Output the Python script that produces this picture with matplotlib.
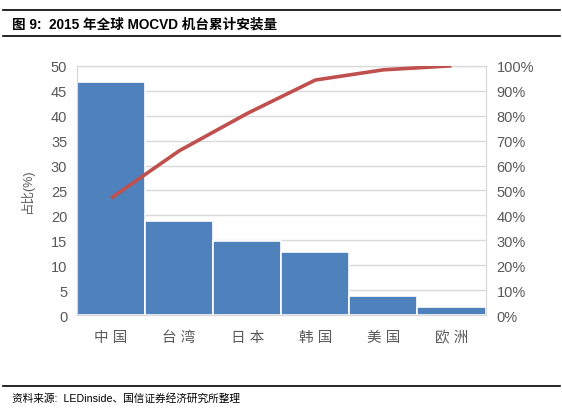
import numpy as np
import matplotlib.pyplot as plt
from matplotlib.lines import Line2D
from matplotlib.ticker import PercentFormatter

plt.rcParams['font.family'] = ['Liberation Sans', 'Noto Sans CJK SC', 'DejaVu Sans']

regions = ['中 国', '台 湾', '日 本', '韩 国', '美 国', '欧 洲']
share = [46.8, 18.8, 14.9, 12.6, 3.9, 1.7]
cum_pct = [46.9, 65.9, 80.9, 94.3, 98.4, 100.0]

bar_color = '#4F81BD'
line_color = '#C0504D'
txt = '#595959'
grid_c = '#D9D9D9'

fig = plt.figure(figsize=(5.62, 4.10), dpi=100)
ax = fig.add_axes([0.137, 0.229, 0.727, 0.608])
x = np.arange(len(regions))

ax.bar(x, share, width=1.0, color=bar_color, edgecolor='white', linewidth=1.2, zorder=2)
ax.set_xlim(-0.5, len(regions) - 0.5)
ax.set_ylim(0, 50)
ax.set_yticks(np.arange(0, 51, 5))
ax.set_xticks(x)
ax.set_xticklabels(regions, fontsize=9, color=txt)
ax.tick_params(axis='both', length=0, colors=txt, labelsize=10.5)
ax.tick_params(axis='y', pad=7)
ax.tick_params(axis='x', pad=11)
ax.grid(axis='y', color=grid_c, linewidth=1, zorder=0)
ax.set_axisbelow(True)
for s in ax.spines.values():
    s.set_color(grid_c)
ax.set_ylabel('占比(%)', fontsize=9, color=txt, labelpad=12)

ax2 = ax.twinx()
ax2.plot(x, cum_pct, color=line_color, linewidth=2.6, solid_capstyle='butt', zorder=3)
ax2.set_ylim(0, 100)
ax2.set_yticks(np.arange(0, 101, 10))
ax2.yaxis.set_major_formatter(PercentFormatter(decimals=0))
ax2.tick_params(axis='y', length=0, colors=txt, labelsize=10.5, pad=8)
for s in ax2.spines.values():
    s.set_color(grid_c)

# header / footer rules and text
fig.add_artist(Line2D([0.005, 0.997], [0.973, 0.973], color='black', linewidth=1.2))
fig.add_artist(Line2D([0.005, 0.997], [0.910, 0.910], color='black', linewidth=1.2))
fig.text(0.022, 0.941, '图 9:  2015 年全球 MOCVD 机台累计安装量', fontsize=9.8,
         fontweight='bold', va='center', ha='left')
fig.add_artist(Line2D([0.005, 0.997], [0.055, 0.055], color='black', linewidth=1.2))
fig.text(0.022, 0.027, '资料来源:  LEDinside、国信证券经济研究所整理', fontsize=7.7,
         va='center', ha='left')

fig.savefig('out.png', dpi=100)
